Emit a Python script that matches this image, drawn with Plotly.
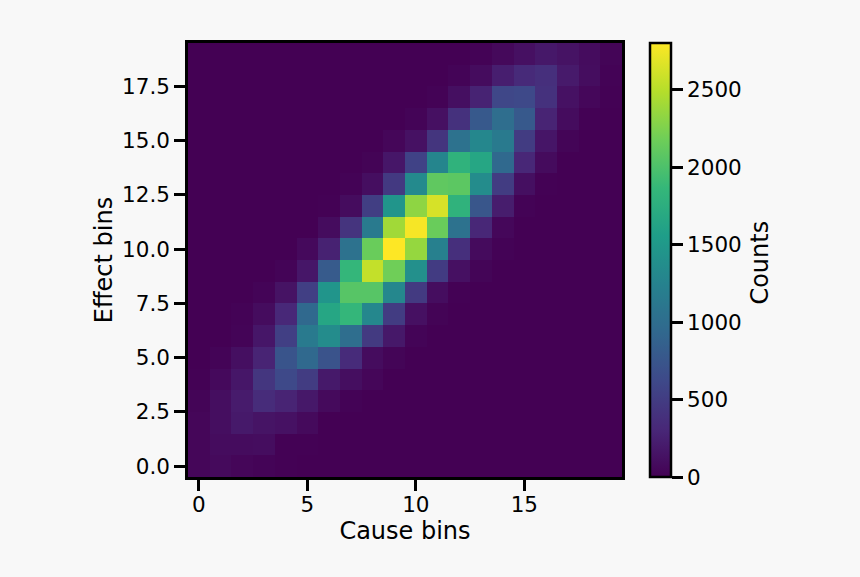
import plotly.graph_objects as go

cause_bins = list(range(20))
effect_bins = list(range(20))

row_00 = [40, 70, 40, 25, 5, 0, 0, 0, 0, 0, 0, 0, 0, 0, 0, 0, 0, 0, 0, 0]
row_01 = [40, 85, 90, 95, 10, 5, 0, 0, 0, 0, 0, 0, 0, 0, 0, 0, 0, 0, 0, 0]
row_02 = [40, 100, 190, 150, 130, 70, 0, 0, 0, 0, 0, 0, 0, 0, 0, 0, 0, 0, 0, 0]
row_03 = [30, 100, 210, 350, 280, 180, 70, 15, 0, 0, 0, 0, 0, 0, 0, 0, 0, 0, 0, 0]
row_04 = [5, 65, 170, 440, 620, 500, 190, 100, 40, 0, 0, 0, 0, 0, 0, 0, 0, 0, 0, 0]
row_05 = [0, 25, 110, 280, 730, 950, 720, 340, 90, 30, 0, 0, 0, 0, 0, 0, 0, 0, 0, 0]
row_06 = [0, 0, 25, 170, 530, 1150, 1350, 1000, 480, 180, 25, 0, 0, 0, 0, 0, 0, 0, 0, 0]
row_07 = [0, 0, 15, 90, 310, 950, 1650, 1850, 1300, 500, 120, 20, 0, 0, 0, 0, 0, 0, 0, 0]
row_08 = [0, 0, 0, 25, 140, 530, 1450, 2050, 2050, 1300, 480, 95, 5, 0, 0, 0, 0, 0, 0, 0]
row_09 = [0, 0, 0, 0, 25, 170, 800, 1850, 2550, 2180, 1400, 490, 120, 30, 0, 0, 0, 0, 0, 0]
row_10 = [0, 0, 0, 0, 0, 65, 260, 1050, 2150, 2800, 2350, 1220, 380, 80, 15, 0, 0, 0, 0, 0]
row_11 = [0, 0, 0, 0, 0, 0, 90, 420, 1150, 2400, 2770, 2150, 1050, 300, 50, 0, 0, 0, 0, 0]
row_12 = [0, 0, 0, 0, 0, 0, 5, 90, 520, 1450, 2320, 2630, 1800, 750, 220, 15, 0, 0, 0, 0]
row_13 = [0, 0, 0, 0, 0, 0, 0, 15, 100, 470, 1330, 2100, 2080, 1350, 500, 110, 10, 0, 0, 0]
row_14 = [0, 0, 0, 0, 0, 0, 0, 0, 20, 170, 560, 1280, 1800, 1650, 950, 300, 80, 0, 0, 0]
row_15 = [0, 0, 0, 0, 0, 0, 0, 0, 0, 40, 130, 430, 1050, 1300, 1150, 500, 160, 30, 0, 0]
row_16 = [0, 0, 0, 0, 0, 0, 0, 0, 0, 0, 25, 120, 400, 780, 1000, 780, 280, 90, 5, 0]
row_17 = [0, 0, 0, 0, 0, 0, 0, 0, 0, 0, 0, 15, 110, 270, 600, 620, 400, 130, 50, 5]
row_18 = [0, 0, 0, 0, 0, 0, 0, 0, 0, 0, 0, 0, 25, 90, 230, 330, 380, 200, 95, 15]
row_19 = [0, 0, 0, 0, 0, 0, 0, 0, 0, 0, 0, 0, 0, 15, 60, 120, 180, 140, 85, 30]

counts = [row_00, row_01, row_02, row_03, row_04, row_05, row_06, row_07, row_08, row_09,
          row_10, row_11, row_12, row_13, row_14, row_15, row_16, row_17, row_18, row_19]

x_ticks = [0, 5, 10, 15]
y_ticks = [0, 2.5, 5, 7.5, 10, 12.5, 15, 17.5]
cbar_ticks = [0, 500, 1000, 1500, 2000, 2500]

FONT = "DejaVu Sans"
BLACK = "#000000"
BG = "#f8f8f8"

fig = go.Figure(go.Heatmap(
    x=cause_bins, y=effect_bins, z=counts,
    colorscale="Viridis", zmin=0, zmax=2800,
    colorbar=dict(
        thickness=21, thicknessmode="pixels", len=1, lenmode="fraction",
        x=1.0644, xanchor="left", y=0.5, yanchor="middle", xpad=0, ypad=0,
        outlinecolor=BLACK, outlinewidth=2.5,
        tickvals=cbar_ticks, ticks="outside", ticklen=11, tickwidth=2.5, tickcolor=BLACK,
        tickfont=dict(family=FONT, size=21.5, color=BLACK),
    ),
))

axis_common = dict(
    showgrid=False, zeroline=False, showline=True, mirror=True,
    linecolor=BLACK, linewidth=2.5,
    ticks="outside", ticklen=11, tickwidth=2.5, tickcolor=BLACK,
    tickfont=dict(family=FONT, size=21.5, color=BLACK),
)

fig.update_layout(
    width=860, height=577,
    margin=dict(l=187.5, r=238, t=42.5, b=99.5),
    paper_bgcolor=BG, plot_bgcolor=BG,
    font=dict(family=FONT, size=21.5, color=BLACK),
    xaxis=dict(axis_common, range=[-0.5, 19.5], tickvals=x_ticks, ticklabelstandoff=-5,
               title=dict(text="Cause bins", font=dict(family=FONT, size=24, color=BLACK), standoff=0)),
    yaxis=dict(axis_common, range=[-0.5, 19.5], tickvals=y_ticks, tickformat=".1f",
               title=dict(text="Effect bins", font=dict(family=FONT, size=24, color=BLACK), standoff=3)),
    annotations=[dict(
        text="Counts", textangle=-90, showarrow=False,
        xref="paper", yref="paper", x=1.317, y=0.493, xanchor="center", yanchor="middle",
        font=dict(family=FONT, size=24, color=BLACK),
    )],
)

fig.write_html(
    "out.html",
    config={"displayModeBar": False},
    post_script="document.body.style.margin='0';document.body.style.background='#f8f8f8';",
)
